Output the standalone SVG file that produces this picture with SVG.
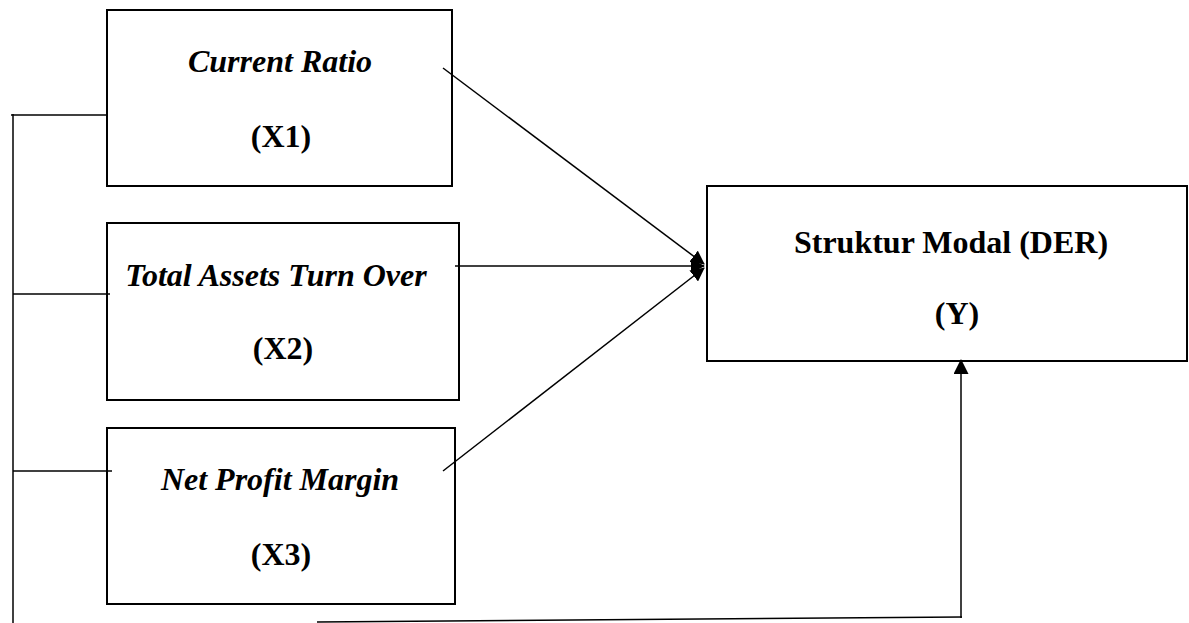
<svg xmlns="http://www.w3.org/2000/svg" width="1189" height="623" viewBox="0 0 1189 623">
  <style>
    .box { fill: #ffffff; stroke: #000000; stroke-width: 2; }
    .lbl { font-family: "Liberation Serif", "Times New Roman", serif; font-size: 32px; font-weight: bold; fill: #000000; text-anchor: middle; }
    .it { font-style: italic; }
    .wire { fill: none; stroke: #000000; stroke-width: 1.5; }
  </style>
  <defs>
    <marker id="head" markerWidth="14" markerHeight="14" refX="13" refY="7" orient="auto" markerUnits="userSpaceOnUse" viewBox="0 0 14 14">
      <path d="M0,0 L14,7 L0,14 Z" fill="#000000"/>
    </marker>
    <marker id="headUp" markerWidth="15" markerHeight="15" refX="14" refY="7.5" orient="auto" markerUnits="userSpaceOnUse" viewBox="0 0 15 15">
      <path d="M0,0 L15,7.5 L0,15 Z" fill="#000000"/>
    </marker>
  </defs>

  <!-- predictor boxes -->
  <g id="x1">
    <rect class="box" x="107" y="10" width="345" height="176"/>
    <text class="lbl it" x="280" y="72">Current Ratio</text>
    <text class="lbl" x="281" y="147">(X1)</text>
  </g>
  <g id="x2">
    <rect class="box" x="107" y="223" width="352" height="177"/>
    <text class="lbl it" x="276" y="286">Total Assets Turn Over</text>
    <text class="lbl" x="283" y="359">(X2)</text>
  </g>
  <g id="x3">
    <rect class="box" x="107" y="428" width="348" height="176"/>
    <text class="lbl it" x="280" y="490">Net Profit Margin</text>
    <text class="lbl" x="281" y="565">(X3)</text>
  </g>

  <!-- dependent variable box -->
  <g id="y">
    <rect class="box" x="707" y="186" width="480" height="175"/>
    <text class="lbl" x="951" y="253">Struktur Modal (DER)</text>
    <text class="lbl" x="957" y="324">(Y)</text>
  </g>

  <!-- connectors -->
  <g id="connectors">
    <line class="wire" x1="443" y1="68" x2="704" y2="264" marker-end="url(#head)"/>
    <line class="wire" x1="455" y1="266" x2="704" y2="266" marker-end="url(#head)"/>
    <line class="wire" x1="443" y1="471" x2="704" y2="268" marker-end="url(#head)"/>

    <!-- left bracket -->
    <line class="wire" x1="13" y1="114" x2="13" y2="623"/>
    <line class="wire" x1="11" y1="115" x2="107" y2="115"/>
    <line class="wire" x1="13" y1="294" x2="110" y2="294"/>
    <line class="wire" x1="13" y1="471" x2="112" y2="471"/>

    <!-- bottom return to Y -->
    <line class="wire" x1="317" y1="622" x2="962" y2="617"/>
    <line class="wire" x1="961" y1="618" x2="961" y2="360" marker-end="url(#headUp)"/>
  </g>
</svg>
